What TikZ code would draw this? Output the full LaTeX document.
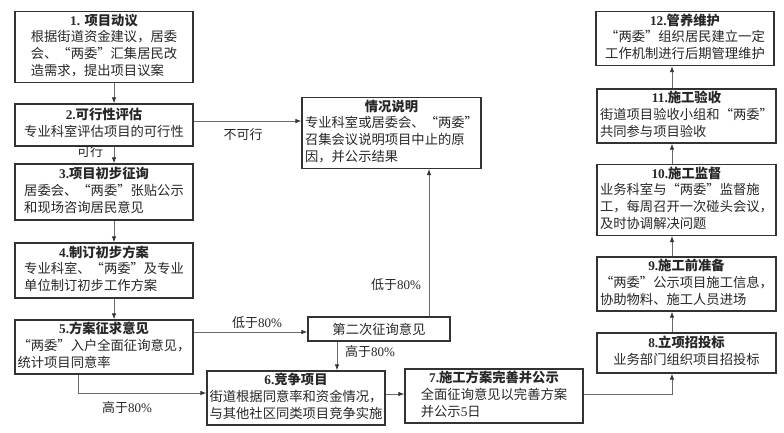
\documentclass[tikz,border=0pt]{standalone}
\usepackage{fontspec}
\setmainfont{Noto Sans CJK SC}
\newfontfamily\fwq[RawFeature=+fwid]{Noto Sans CJK SC}
\newfontfamily\lat{Liberation Serif}
\newcommand\Lq{{\fwq “}}
\newcommand\Rq{{\fwq ”}}
\newcommand\N[1]{{\lat #1}}
\newcommand\bxt[2]{\begin{tabular}{@{}l@{}}\multicolumn{1}{@{}c@{}}{\bfseries #1}\\#2\end{tabular}}
\usetikzlibrary{arrows.meta}
\definecolor{bd}{HTML}{333333}
\definecolor{ln}{HTML}{6A6A6A}
\tikzset{
 box/.style={draw=bd, line width=1.2pt, inner sep=2pt, minimum width=178pt, font=\fontsize{13.3}{16.7}\selectfont, text=black!85},
 arr/.style={draw=ln, line width=0.9pt, -{Latex[length=6pt,width=4.5pt,color=bd]}},
 lbl/.style={font=\fontsize{13}{15}\selectfont, text=black!85, inner sep=1pt}
}
\begin{document}
\begin{tikzpicture}[x=1pt,y=-1pt]
\useasboundingbox (0,0) rectangle (784,432);
% boxes
\node[box, minimum height=68pt] (b1) at (104,47) {\bxt{\N{1. }项目动议}{根据街道资金建议，居委\\会、\Lq 两委\Rq 汇集居民改\\造需求，提出项目议案}};
\node[box, minimum height=42pt] (b2) at (104,125) {\bxt{\N{2.}可行性评估}{专业科室评估项目的可行性}};
\node[box, minimum height=56pt] (b3) at (104,192) {\bxt{\N{3.}项目初步征询}{居委会、\Lq 两委\Rq 张贴公示\\和现场咨询居民意见}};
\node[box, minimum height=55pt] (b4) at (104,270.5) {\bxt{\N{4.}制订初步方案}{专业科室、\Lq 两委\Rq 及专业\\单位制订初步工作方案}};
\node[box, minimum height=54pt] (b5) at (104,347) {\bxt{\N{5.}方案征求意见}{\Lq 两委\Rq 入户全面征询意见，\\统计项目同意率}};
\node[box, minimum width=179pt, minimum height=68pt] (s) at (391.5,133) {\bxt{情况说明}{专业科室或居委会、\Lq 两委\Rq\\召集会议说明项目中止的原\\因，并公示结果}};
\node[box, minimum width=142pt, minimum height=24pt] (t) at (379,329) {第二次征询意见};
\node[box, minimum height=54pt] (b6) at (296,398) {\bxt{\N{6.}竞争项目}{街道根据同意率和资金情况，\\与其他社区同类项目竞争实施}};
\node[box, minimum height=54pt] (b7) at (494,396) {\bxt{\N{7.}施工方案完善并公示}{全面征询意见以完善方案\\并公示\N{5}日}};
\node[box, minimum width=179pt, minimum height=40pt] (b8) at (686.5,353) {\bxt{\N{8.}立项招投标}{业务部门组织项目招投标}};
\node[box, minimum width=179pt, minimum height=54pt] (b9) at (686.5,284) {\bxt{\N{9.}施工前准备}{\Lq 两委\Rq 公示项目施工信息，\\协助物料、施工人员进场}};
\node[box, minimum width=179pt, minimum height=68pt] (b10) at (686.5,200) {\bxt{\N{10.}施工监督}{业务科室与\Lq 两委\Rq 监督施\\工，每周召开一次碰头会议，\\及时协调解决问题}};
\node[box, minimum width=179pt, minimum height=54pt] (b11) at (686.5,116) {\bxt{\N{11.}施工验收}{街道项目验收小组和\Lq 两委\Rq\\共同参与项目验收}};
\node[box, minimum height=53pt] (b12) at (685,38.5) {\bxt{\N{12.}管养维护}{\Lq 两委\Rq 组织居民建立一定\\工作机制进行后期管理维护}};
% helper coordinates
\coordinate (cl) at (114,0);
\coordinate (cr) at (672,0);
\coordinate (y1) at (0,121);
\coordinate (y2) at (0,332);
\coordinate (x3) at (337,0);
\coordinate (x4) at (429,0);
\coordinate (x5) at (78,0);
\coordinate (y5) at (0,393);
\coordinate (y6) at (0,394);
% connectors
\draw[arr] (b1.south -| cl) -- (b2.north -| cl);
\draw[arr] (b2.south -| cl) -- (b3.north -| cl);
\draw[arr] (b3.south -| cl) -- (b4.north -| cl);
\draw[arr] (b4.south -| cl) -- (b5.north -| cl);
\draw[arr] (b2.east |- y1) -- (s.west |- y1);
\draw[arr] (b5.east |- y2) -- (t.west |- y2);
\draw[arr] (t.south -| x3) -- (b6.north -| x3);
\draw[arr] (t.north -| x4) -- (s.south -| x4);
\draw[arr] (b5.south -| x5) |- (b6.west |- y5);
\draw[arr] (b6.east |- y6) -- (b7.west |- y6);
\draw[arr] (b7.east |- y6) -| (b8.south -| cr);
\draw[arr] (b8.north -| cr) -- (b9.south -| cr);
\draw[arr] (b9.north -| cr) -- (b10.south -| cr);
\draw[arr] (b10.north -| cr) -- (b11.south -| cr);
\draw[arr] (b11.north -| cr) -- (b12.south -| cr);
% labels
\node[lbl] (l1) at (243,135) {不可行};
\node[lbl] (l2) at (90,152) {可行};
\node[lbl] (l3) at (257,323) {低于\N{80\%}};
\node[lbl] (l4) at (370,352) {高于\N{80\%}};
\node[lbl] (l5) at (127,408) {高于\N{80\%}};
\node[lbl] (l6) at (396,285) {低于\N{80\%}};
\end{tikzpicture}
\end{document}
